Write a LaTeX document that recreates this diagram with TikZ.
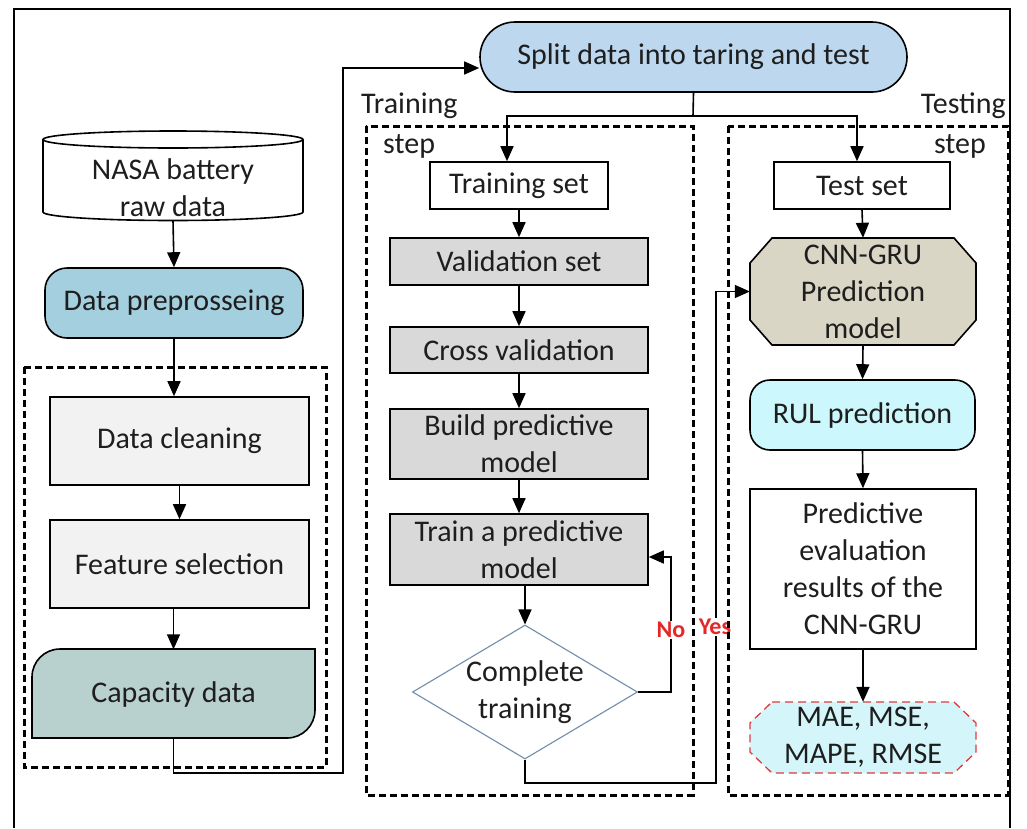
\documentclass[tikz,border=0pt]{standalone}
\usepackage{fontspec}
\setmainfont{Carlito}
\usetikzlibrary{shapes.geometric,shapes.misc,arrows.meta,calc}

\definecolor{ink}{RGB}{30,30,30}
\definecolor{prepblue}{RGB}{164,207,223}
\definecolor{splitblue}{RGB}{189,215,238}
\definecolor{boxlight}{RGB}{242,242,242}
\definecolor{boxgray}{RGB}{217,217,217}
\definecolor{capteal}{RGB}{184,209,206}
\definecolor{modelkhaki}{RGB}{217,214,198}
\definecolor{rulcyan}{RGB}{204,247,252}
\definecolor{metriccyan}{RGB}{212,246,250}
\definecolor{metricred}{RGB}{222,60,60}
\definecolor{decisionedge}{RGB}{112,142,172}
\definecolor{answerred}{RGB}{228,40,40}

\tikzset{
  outline/.style={draw=black,line width=1.6pt},
  plainbox/.style={outline,fill=white,rectangle},
  graybox/.style={outline,fill=boxgray,rectangle,minimum width=258pt},
  lightbox/.style={outline,fill=boxlight,rectangle,minimum width=259pt,minimum height=88pt},
  flow/.style={line width=1.6pt,-{Triangle[length=15pt,width=13pt]}},
  link/.style={line width=1.6pt},
  region/.style={line width=3pt,dash pattern=on 7pt off 4pt},
  answer/.style={text=answerred,font=\fontsize{24}{28}\selectfont\bfseries,fill=white,inner sep=1.5pt},
  steptext/.style={inner sep=0pt}
}

\begin{document}
\begin{tikzpicture}[x=1pt,y=-1pt,
  every node/.style={font=\fontsize{30}{37}\selectfont,text=ink,inner sep=0pt,align=center}]

\useasboundingbox (0,0) rectangle (1027,828);
\fill[white] (0,0) rectangle (1027,828);

% outer frame (its lower edge lies below the page)
\draw[line width=2pt] (14,828) -- (14,9) -- (1010,9) -- (1010,828);

% ---------- data preparation column ----------
\filldraw[fill=white,line width=1.6pt] (43,139.5) -- (43,212)
  arc[start angle=180,end angle=0,x radius=130,y radius=8.5] -- (303,139.5);
\draw[line width=1.6pt] (173,139.5) ellipse[x radius=130,y radius=8.5];
\node[minimum width=260pt,minimum height=65pt] (nasa) at (173,188)
  {NASA battery\\raw data};

\node[outline,fill=prepblue,rectangle,rounded corners=22pt,
  minimum width=258pt,minimum height=70pt] (prep) at (174,303) {Data preprosseing};

\node[lightbox] (clean) at (179.5,441) {Data cleaning};
\node[lightbox] (feat) at (179.5,564) {Feature selection};

\filldraw[fill=capteal,line width=1.6pt] (32,738) -- (32,677)
  .. controls (32,661.5) and (44.5,649) .. (60,649) -- (315,649) -- (315,710)
  .. controls (315,725.5) and (302.5,738) .. (287,738) -- cycle;
\node[minimum width=283pt,minimum height=89pt] (cap) at (173.5,694) {Capacity data};

% ---------- split ----------
\node[outline,fill=splitblue,rounded rectangle,minimum width=427pt,minimum height=70pt]
  (split) at (693.5,57) {Split data into taring and test};

% ---------- training column ----------
\node[plainbox,minimum width=178pt,minimum height=47pt] (trainset) at (519,185.5) {Training set};
\node[graybox,minimum height=47pt] (valid) at (519,261.5) {Validation set};
\node[graybox,minimum height=46pt] (cross) at (519,350) {Cross validation};
\node[graybox,minimum height=70pt] (build) at (519,444) {Build predictive\\model};
\node[graybox,minimum height=71pt] (trainm) at (519,549.5) {Train a predictive\\model};
\node[diamond,draw=decisionedge,line width=1.1pt,fill=white,aspect=1.68,
  minimum width=225pt,minimum height=134pt] (complete) at (525,692) {Complete\\training};

% ---------- testing column ----------
\node[plainbox,minimum width=176pt,minimum height=47pt] (testset) at (862,185.5) {Test set};

\filldraw[fill=modelkhaki,line width=1.6pt] (772,238) -- (954,238) -- (976,263) -- (976,320)
  -- (954,345) -- (772,345) -- (750,320) -- (750,263) -- cycle;
\node[minimum width=226pt,minimum height=107pt] (cnn) at (863,291.5)
  {CNN-GRU\\Prediction\\model};

\node[outline,fill=rulcyan,rectangle,rounded corners=20pt,
  minimum width=225pt,minimum height=70pt] (rul) at (862.5,415) {RUL prediction};
\node[plainbox,minimum width=226pt,minimum height=160pt] (eval) at (863,569)
  {Predictive\\evaluation\\results of the\\CNN-GRU};

\filldraw[fill=metriccyan,draw=metricred,line width=1.3pt,dash pattern=on 8pt off 5pt]
  (772,702) -- (954,702) -- (976,723) -- (976,752) -- (954,773) -- (772,773)
  -- (750,752) -- (750,723) -- cycle;
\node[minimum width=226pt,minimum height=71pt] (mae) at (863,737.5) {MAE, MSE,\\MAPE, RMSE};

% ---------- connectors ----------
\draw[flow] (nasa.south) -- (prep.north);
\draw[flow] (prep.south) -- (clean.north -| prep.south);
\draw[flow] (clean.south) -- (feat.north);
\draw[flow] (feat.south -| cap.north) -- (cap.north);

\coordinate (capturn) at (343,773);
\draw[flow] (cap.south) |- (capturn) |- ($(split.west)+(0,11)$);

\coordinate (fork) at (693,116);
\draw[link] (split.south) -- (fork);
\draw[flow] (fork) -| ([xshift=-12pt]trainset.north);
\draw[flow] (fork) -| ([xshift=-5pt]testset.north);

\draw[flow] (trainset.south) -- (valid.north);
\draw[flow] (valid.south) -- (cross.north);
\draw[flow] (cross.south) -- (build.north);
\draw[flow] (build.south) -- (trainm.north);
\draw[flow] (complete.north |- trainm.south) -- (complete.north);

\coordinate (noturn) at (671,557);
\draw[flow] (complete.east) -| (noturn) -- (trainm.east |- noturn);
\coordinate (yesturn) at (716,783);
\draw[flow] (complete.south) |- (yesturn) |- (cnn.west);

\draw[flow] (testset.south) -- (cnn.north);
\draw[flow] (cnn.south) -- (rul.north);
\draw[flow] (rul.south) -- (eval.north);
\draw[flow] (eval.south) -- (mae.north);

\node[answer] (nolabel) at (671,630) {No};
\node[answer] (yeslabel) at (715,627) {Yes};

% ---------- dashed stage frames ----------
\draw[region] (24,367) rectangle (326,767);
\draw[region] (366,126) rectangle (693,795);
\draw[region] (728,126) rectangle (1008,795);

\node[steptext,anchor=west] (trainhead) at (361,106) {Training};
\node[steptext,anchor=west] (trainstep) at (383,146) {step};
\node[steptext,anchor=east] (testhead) at (1006,106) {Testing};
\node[steptext,anchor=east] (teststep) at (986,146) {step};

\end{tikzpicture}
\end{document}
